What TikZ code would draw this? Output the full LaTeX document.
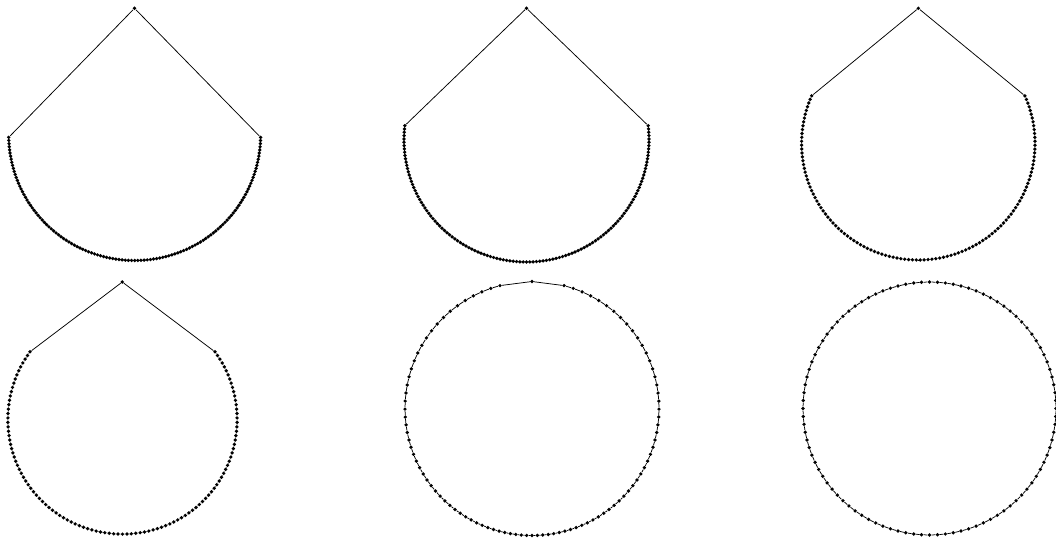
\documentclass[tikz,border=0pt]{standalone}
\tikzset{
  vtx/.style={circle,fill=black,draw=none,inner sep=0pt,minimum size=3.7pt},
  cedge/.style={draw=black,line width=0.75pt}
}
% id, cx, cy, r, apex x, apex y, start angle of the arc, number of arc vertices
\newcommand\teardrop[8]{%
  \node[vtx] (#1-0) at (#5,#6) {};
  \foreach \k in {1,...,#8}{%
    \pgfmathsetmacro\ang{#7+(\k-1)/(#8-1)*(540-2*#7)}%
    \node[vtx] (#1-\k) at ({#2+#4*cos(\ang)},{#3-#4*sin(\ang)}) {};
  }%
}
% id, last index
\newcommand\cycleedges[2]{%
  \pgfmathtruncatemacro\lastm{#2-1}%
  \foreach \k in {0,...,\lastm}{%
    \pgfmathtruncatemacro\kn{\k+1}%
    \draw[cedge] (#1-\k) -- (#1-\kn);
  }%
  \draw[cedge] (#1-#2) -- (#1-0);
}
\begin{document}
\begin{tikzpicture}[x=1pt,y=-1pt]
\useasboundingbox (0,0) rectangle (1056,540);

% panel 1
\teardrop{a}{134.7}{134.5}{126}{134.5}{8.3}{181.3}{125}
\cycleedges{a}{125}
% panel 2
\teardrop{b}{526.5}{139.5}{122.5}{526.5}{8.3}{173.5}{125}
\cycleedges{b}{125}
% panel 3
\teardrop{c}{918.3}{143.3}{116.7}{918.3}{8.3}{156}{120}
\cycleedges{c}{120}
% panel 4
\teardrop{d}{122.5}{419.5}{114.6}{122.3}{282}{143.8}{115}
\cycleedges{d}{115}

% panel 5 (circle, sparse near the top)
\foreach \k in {0,...,99}{%
  \pgfmathtruncatemacro\j{min(\k,100-\k)}%
  \ifnum\j=0
    \def\ang{90}%
  \else
    \pgfmathsetmacro\ph{14.6+4.368*(\j-1)-0.02025*(\j-1)^2}%
    \pgfmathsetmacro\ang{(\k<=50)*(90+\ph)+(\k>50)*(450-\ph)}%
  \fi
  \node[vtx] (e-\k) at ({532+127*cos(\ang)},{408.5-127*sin(\ang)}) {};
}
\cycleedges{e}{99}

% panel 6 (uniform circle)
\foreach \k in {0,...,99}{%
  \pgfmathsetmacro\ang{90+3.6*\k}%
  \node[vtx] (f-\k) at ({929.5+126.5*cos(\ang)},{408.5-126.5*sin(\ang)}) {};
}
\cycleedges{f}{99}
\end{tikzpicture}
\end{document}
